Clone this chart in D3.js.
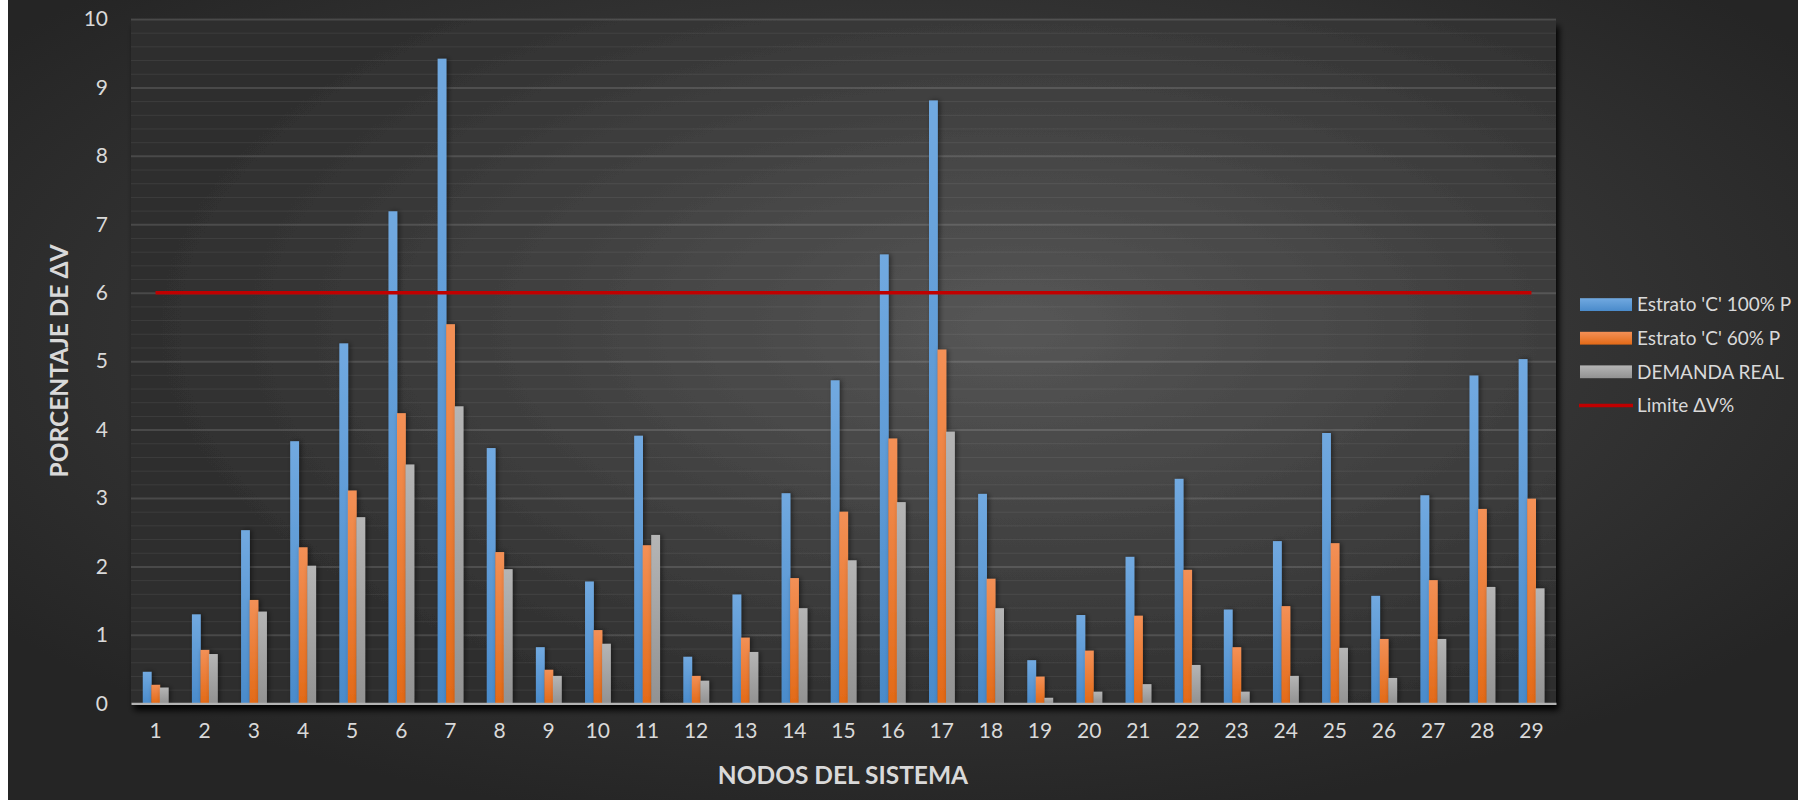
<!DOCTYPE html>
<html>
<head>
<meta charset="utf-8">
<script src="https://cdn.jsdelivr.net/npm/d3@7"></script>
<style>
  html, body { margin: 0; padding: 0; background: #ffffff; }
  svg { display: block; }
  text { font-family: Lato, "Open Sans", "Noto Sans", sans-serif; }
</style>
</head>
<body>
<svg id="chart" width="1798" height="800"></svg>
<script>
// ---------------- data ----------------
const nodes = ["1","2","3","4","5","6","7","8","9","10","11","12","13","14","15","16","17","18","19","20","21","22","23","24","25","26","27","28","29"];
const seriesNames = ["Estrato 'C' 100% P", "Estrato 'C' 60% P", "DEMANDA REAL"];
const lineName = "Limite ΔV%";
const estrato100 = [0.46,1.30,2.53,3.83,5.26,7.19,9.42,3.73,0.82,1.78,3.91,0.68,1.59,3.07,4.72,6.56,8.81,3.06,0.63,1.29,2.14,3.28,1.37,2.37,3.95,1.57,3.04,4.79,5.03];
const estrato60  = [0.27,0.78,1.51,2.28,3.11,4.24,5.54,2.21,0.49,1.07,2.31,0.40,0.96,1.83,2.80,3.87,5.17,1.82,0.39,0.77,1.28,1.95,0.82,1.42,2.34,0.94,1.80,2.84,2.99];
const demandaReal = [0.23,0.72,1.34,2.01,2.72,3.49,4.34,1.96,0.40,0.87,2.46,0.33,0.75,1.39,2.09,2.94,3.97,1.39,0.08,0.17,0.28,0.56,0.17,0.40,0.81,0.37,0.94,1.70,1.68];
const limite = [6,6,6,6,6,6,6,6,6,6,6,6,6,6,6,6,6,6,6,6,6,6,6,6,6,6,6,6,6];
const yTicks = [0,1,2,3,4,5,6,7,8,9,10];
const yTitle = "PORCENTAJE DE ΔV";
const xTitle = "NODOS DEL SISTEMA";

// ---------------- layout ----------------
const W = 1798, H = 800;
const plot = { left: 131, right: 1556, top: 19, bottom: 703.3 };
const svg = d3.select("#chart");
const defs = svg.append("defs");

// background gradients
const bgGrad = defs.append("radialGradient").attr("id", "bgGrad")
  .attr("cx", "50%").attr("cy", "42%").attr("r", "62%");
bgGrad.append("stop").attr("offset", "0%").attr("stop-color", "#4a4a4a");
bgGrad.append("stop").attr("offset", "100%").attr("stop-color", "#252525");

const plotGrad = defs.append("radialGradient").attr("id", "plotGrad")
  .attr("cx", "62%").attr("cy", "45%").attr("r", "60%");
plotGrad.append("stop").attr("offset", "0%").attr("stop-color", "#565656");
plotGrad.append("stop").attr("offset", "100%").attr("stop-color", "#2f2f2f");

const colorStops = {
  b: ["#71a9e0", "#4a8bcb"],
  o: ["#f39056", "#e36a17"],
  g: ["#b5b5b5", "#929292"]
};
const gradIds = ["gBlue", "gOrange", "gGray"];
[colorStops.b, colorStops.o, colorStops.g].forEach((c, i) => {
  const g = defs.append("linearGradient").attr("id", gradIds[i])
    .attr("x1", 0).attr("y1", 0).attr("x2", 0).attr("y2", 1);
  g.append("stop").attr("offset", "0%").attr("stop-color", c[0]);
  g.append("stop").attr("offset", "100%").attr("stop-color", c[1]);
});

const plotShadow = defs.append("filter").attr("id", "plotShadow")
  .attr("x", "-5%").attr("y", "-5%").attr("width", "110%").attr("height", "115%");
plotShadow.append("feDropShadow").attr("dx", 3).attr("dy", 7).attr("stdDeviation", 3)
  .attr("flood-color", "#000").attr("flood-opacity", 0.95);

const barShadow = defs.append("filter").attr("id", "barShadow")
  .attr("x", "-50%").attr("y", "-10%").attr("width", "200%").attr("height", "120%");
barShadow.append("feDropShadow").attr("dx", 2).attr("dy", 0).attr("stdDeviation", 2.5)
  .attr("flood-color", "#000").attr("flood-opacity", 0.45);

// outer background
svg.append("rect").attr("x", 0).attr("y", 0).attr("width", W).attr("height", H).attr("fill", "url(#bgGrad)");
svg.append("rect").attr("x", 0).attr("y", 0).attr("width", 8).attr("height", H).attr("fill", "#ffffff");

// plot area
svg.append("rect")
  .attr("x", plot.left).attr("y", plot.top)
  .attr("width", plot.right - plot.left).attr("height", plot.bottom - plot.top)
  .attr("fill", "url(#plotGrad)")
  .attr("filter", "url(#plotShadow)");

// scales
const x = d3.scaleBand().domain(nodes).range([plot.left, plot.right]).paddingInner(0).paddingOuter(0);
const groupW = x.bandwidth() * 0.52;
const xs = d3.scaleBand().domain(seriesNames).range([0, groupW]).padding(0);
const y = d3.scaleLinear().domain([0, 10]).range([plot.bottom, plot.top]);

// gridlines (minor and major)
const minorTicks = d3.range(0, 10.001, 0.2).filter(v => Math.abs(v - Math.round(v)) > 1e-6);
const grid = svg.append("g");
grid.append("g").call(d3.axisLeft(y).tickValues(minorTicks).tickSize(-(plot.right - plot.left)).tickFormat(""))
  .attr("transform", `translate(${plot.left},0)`)
  .call(g => g.select(".domain").remove())
  .call(g => g.selectAll("line").attr("stroke", "rgba(255,255,255,0.07)").attr("stroke-width", 1));
grid.append("g").call(d3.axisLeft(y).tickValues(yTicks.filter(v => v > 0)).tickSize(-(plot.right - plot.left)).tickFormat(""))
  .attr("transform", `translate(${plot.left},0)`)
  .call(g => g.select(".domain").remove())
  .call(g => g.selectAll("line").attr("stroke", "rgba(255,255,255,0.13)").attr("stroke-width", 2));

// bars
const seriesData = [estrato100, estrato60, demandaReal];
seriesData.forEach((vals, si) => {
  svg.append("g").attr("filter", "url(#barShadow)")
    .selectAll("rect").data(vals).join("rect")
    .attr("x", (d, i) => x(nodes[i]) + (x.bandwidth() - groupW) / 2 + xs(seriesNames[si]))
    .attr("width", xs.bandwidth() + 0.3)
    .attr("y", d => y(d))
    .attr("height", d => y(0) - y(d))
    .attr("fill", `url(#${gradIds[si]})`);
});

// limit line
const line = d3.line().x((d, i) => x(nodes[i]) + x.bandwidth() / 2).y(d => y(d));
svg.append("path").datum(limite).attr("d", line)
  .attr("fill", "none").attr("stroke", "#c00000").attr("stroke-width", 3.5);

// x axis line
svg.append("g").attr("transform", `translate(0,${plot.bottom})`)
  .call(d3.axisBottom(x).tickSize(0).tickPadding(20))
  .call(g => g.select(".domain").attr("stroke", "#b3b3b3").attr("stroke-width", 2.2))
  .call(g => g.selectAll("text").attr("fill", "#d9d9d9").attr("font-size", 21)
    .attr("font-family", "Lato, sans-serif").attr("dy", "0.71em"));

// y axis labels
svg.append("g").attr("transform", `translate(108,0)`)
  .call(d3.axisLeft(y).tickValues(yTicks).tickSize(0).tickPadding(0))
  .call(g => g.select(".domain").remove())
  .call(g => g.selectAll("text").attr("fill", "#d9d9d9").attr("font-size", 21)
    .attr("font-family", "Lato, sans-serif").attr("text-anchor", "end"));

// axis titles
svg.append("text")
  .attr("transform", `translate(68,361) rotate(-90)`)
  .attr("text-anchor", "middle")
  .attr("fill", "#d9d9d9").attr("font-weight", "bold").attr("font-size", 24.5)
  .text(yTitle);
svg.append("text")
  .attr("x", 843).attr("y", 784)
  .attr("text-anchor", "middle")
  .attr("fill", "#d9d9d9").attr("font-weight", "bold").attr("font-size", 24.5)
  .text(xTitle);

// legend
const legend = svg.append("g").attr("transform", "translate(1580,304.6)");
const rowH = 33.6;
seriesNames.forEach((name, i) => {
  const row = legend.append("g").attr("transform", `translate(0,${i * rowH})`);
  row.append("rect").attr("x", 0).attr("y", -6.4).attr("width", 52).attr("height", 12.8)
    .attr("fill", `url(#${gradIds[i]})`);
  row.append("text").attr("x", 57).attr("y", 0).attr("dy", "0.36em")
    .attr("fill", "#d9d9d9").attr("font-size", 19).text(name);
});
const lrow = legend.append("g").attr("transform", `translate(0,${3 * rowH})`);
lrow.append("line").attr("x1", -1).attr("x2", 53).attr("y1", 0).attr("y2", 0)
  .attr("stroke", "#c00000").attr("stroke-width", 3.5);
lrow.append("text").attr("x", 57).attr("y", 0).attr("dy", "0.36em")
  .attr("fill", "#d9d9d9").attr("font-size", 19).text(lineName);
</script>
</body>
</html>
